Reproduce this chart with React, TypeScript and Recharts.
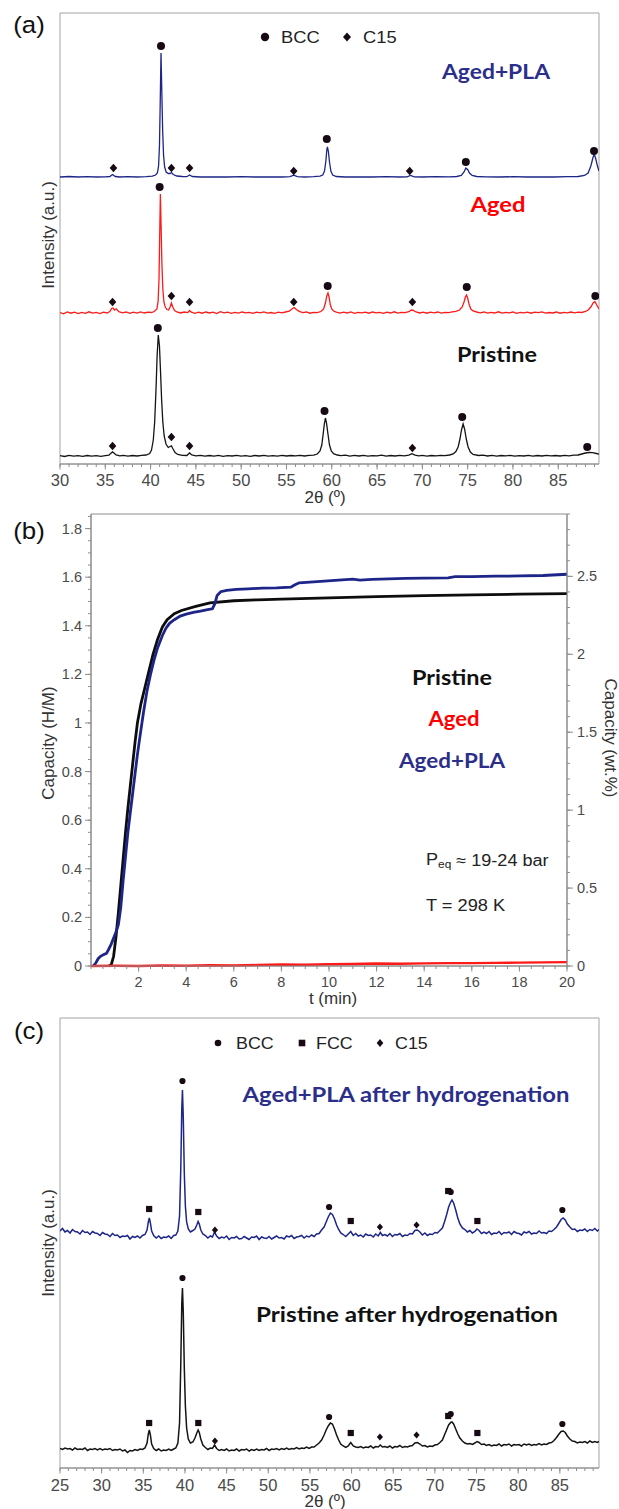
import React from "react";
import { ComposedChart, Line, Scatter, XAxis, YAxis, ReferenceArea } from "recharts";

type Pt = [number, number];
const pts = (a: Pt[]) => a.map(([x, y]) => ({ x, y }));

// ---------- (a) XRD, 2θ (deg) vs stacked intensity (a.u.)
const agedPlaA: Pt[] = [
  [30, 287], [31, 287.5], [32, 287], [33, 287.3], [34, 287], [35, 287.2], [35.5, 287.5], [35.8, 289.5], [36.1, 287.5],
  [36.6, 287], [37.5, 287.3], [38.5, 287], [39.5, 287.3], [40.2, 287.8], [40.55, 289], [40.75, 291], [40.88, 298],
  [40.98, 318], [41.06, 360], [41.15, 411], [41.24, 372], [41.33, 334], [41.43, 309], [41.55, 297], [41.72, 292],
  [41.95, 290.5], [42.15, 290.5], [42.3, 291.5], [42.5, 289.5], [42.9, 288], [43.5, 287.5], [44.0, 287.3], [44.3, 289],
  [44.6, 287.5], [45.5, 287], [47, 287.2], [48.5, 287], [50, 287.3], [51.5, 287], [53, 287.2], [54.5, 287], [55.4, 287.3],
  [55.8, 288.8], [56.2, 287.3], [57, 287], [58, 287.3], [58.7, 287.8], [59.0, 289], [59.2, 293], [59.35, 303],
  [59.45, 314], [59.52, 317], [59.62, 313], [59.75, 302], [59.9, 293], [60.1, 289], [60.5, 287.5], [61.5, 287],
  [63, 287.2], [64.5, 287], [66, 287.3], [67.5, 287], [68.3, 287.2], [68.7, 288.5], [69.1, 287.2], [70, 287],
  [71.5, 287.3], [73, 287.2], [73.8, 287.5], [74.3, 288.5], [74.6, 292], [74.8, 296], [75.0, 294.5], [75.2, 291],
  [75.5, 288.5], [76, 287.5], [77, 287.2], [78.5, 287], [80, 287.3], [81.5, 287], [83, 287.2], [84.5, 287], [86, 287.3],
  [87.2, 287.5], [87.9, 288.5], [88.3, 291], [88.6, 298], [88.85, 307], [88.98, 309.5], [89.12, 306], [89.3, 299], [89.5, 293],
];
const agedA: Pt[] = [
  [30, 151.5], [30.4, 150.2], [30.8, 152], [31.2, 150.8], [31.6, 151.8], [32, 150.4], [32.4, 151.6], [32.8, 150.6],
  [33.2, 152.2], [33.6, 150.9], [34, 151.7], [34.4, 150.5], [34.8, 151.9], [35.2, 151], [35.5, 152.5], [35.7, 155.5],
  [35.85, 156], [36.0, 154], [36.2, 155.2], [36.5, 152.4], [36.9, 151.2], [37.3, 152], [37.7, 150.7], [38.1, 151.8],
  [38.5, 150.9], [38.9, 152.1], [39.3, 151], [39.7, 151.9], [40.1, 151.5], [40.4, 152.5], [40.7, 155], [40.83, 163],
  [40.93, 185], [41.0, 225], [41.08, 270], [41.16, 238], [41.25, 200], [41.35, 175], [41.47, 162], [41.62, 157],
  [41.8, 154.5], [41.98, 154], [42.15, 157], [42.3, 161], [42.45, 157], [42.65, 153.5], [42.9, 152], [43.3, 151],
  [43.7, 152], [44.1, 151.4], [44.3, 153.5], [44.5, 151.8], [44.9, 150.6], [45.3, 151.9], [45.7, 150.8], [46.1, 152],
  [46.5, 151], [46.9, 151.8], [47.3, 150.5], [47.7, 152.3], [48.1, 151.2], [48.5, 151.9], [48.9, 150.7], [49.3, 151.6],
  [49.7, 150.9], [50.1, 152], [50.5, 151.1], [50.9, 151.7], [51.3, 150.6], [51.7, 151.9], [52.1, 151.2], [52.5, 152.1],
  [52.9, 150.8], [53.3, 151.5], [53.7, 150.7], [54.1, 151.9], [54.5, 151.2], [54.9, 152], [55.3, 152.8], [55.6, 155],
  [55.85, 156.5], [56.1, 154.5], [56.4, 152.6], [56.8, 151.4], [57.2, 152], [57.6, 150.8], [58, 151.7], [58.4, 151.3],
  [58.8, 152.5], [59.1, 155], [59.3, 161], [59.45, 168], [59.58, 171], [59.7, 167], [59.85, 159], [60.0, 155],
  [60.2, 153], [60.5, 151.8], [60.9, 150.9], [61.3, 151.9], [61.7, 151], [62.1, 152.1], [62.5, 150.7], [62.9, 151.6],
  [63.3, 151.1], [63.7, 151.9], [64.1, 150.8], [64.5, 152], [64.9, 151.2], [65.3, 151.7], [65.7, 150.6], [66.1, 151.9],
  [66.5, 151], [66.9, 152.2], [67.3, 150.9], [67.7, 151.6], [68.1, 151.4], [68.5, 152.3], [68.8, 154], [69.0, 153.6],
  [69.3, 152], [69.7, 151], [70.1, 151.8], [70.5, 150.8], [70.9, 151.9], [71.3, 151.1], [71.7, 152], [72.1, 150.9],
  [72.5, 151.7], [72.9, 151.3], [73.3, 152.1], [73.7, 152.6], [74.1, 154], [74.4, 157], [74.6, 162], [74.75, 167],
  [74.88, 169], [75.0, 166], [75.15, 160], [75.35, 155], [75.6, 153], [76, 152], [76.4, 151.2], [76.8, 152],
  [77.2, 150.8], [77.6, 151.6], [78, 151], [78.4, 152.2], [78.8, 150.9], [79.2, 151.7], [79.6, 151.2], [80, 152],
  [80.4, 150.7], [80.8, 151.6], [81.2, 151.1], [81.6, 151.9], [82, 150.8], [82.4, 151.8], [82.8, 151.3], [83.2, 152.1],
  [83.6, 150.9], [84, 151.5], [84.4, 151], [84.8, 152], [85.2, 150.8], [85.6, 151.7], [86, 151.2], [86.4, 152],
  [86.8, 151.1], [87.2, 151.8], [87.6, 151.5], [88, 152.5], [88.3, 154], [88.6, 157], [88.85, 161], [89.05, 162.5],
  [89.25, 159], [89.5, 155],
];
const pristineA: Pt[] = [
  [30, 8.3], [30.5, 7.5], [31, 8.6], [31.5, 7.8], [32, 8.4], [32.5, 7.6], [33, 8.5], [33.5, 7.9], [34, 8.3], [34.5, 7.7],
  [35, 8.4], [35.4, 8.8], [35.65, 11], [35.8, 12.2], [35.95, 11], [36.2, 9], [36.6, 8.2], [37, 8.6], [37.5, 7.8], [38, 8.5],
  [38.5, 8], [39, 8.6], [39.5, 9], [39.9, 10.5], [40.1, 14], [40.3, 24], [40.45, 42], [40.6, 75], [40.72, 108],
  [40.85, 129], [40.98, 118], [41.1, 92], [41.22, 64], [41.35, 42], [41.5, 28], [41.7, 20], [41.95, 16.5], [42.15, 17.5],
  [42.3, 18.2], [42.45, 15.5], [42.7, 11.5], [43, 9.5], [43.5, 8.6], [44, 8.5], [44.3, 11], [44.55, 9], [45, 8.2],
  [45.5, 8.7], [46, 7.8], [46.5, 8.5], [47, 7.9], [47.5, 8.6], [48, 7.7], [48.5, 8.4], [49, 8], [49.5, 8.6], [50, 7.8],
  [50.5, 8.3], [51, 7.6], [51.5, 8.5], [52, 8], [52.5, 8.7], [53, 7.9], [53.5, 8.4], [54, 7.8], [54.5, 8.6], [55, 8],
  [55.5, 8.5], [56, 8.1], [56.5, 8.7], [57, 8], [57.5, 8.6], [58, 8.8], [58.4, 10], [58.7, 13], [58.9, 19], [59.05, 30],
  [59.18, 40], [59.3, 46], [59.42, 41], [59.58, 30], [59.75, 19], [59.95, 13], [60.2, 10.3], [60.6, 9], [61, 8.3],
  [61.5, 8.8], [62, 7.9], [62.5, 8.6], [63, 8], [63.5, 8.7], [64, 7.8], [64.5, 8.4], [65, 8.1], [65.5, 8.8], [66, 7.9],
  [66.5, 8.5], [67, 8], [67.5, 8.6], [68, 8.1], [68.5, 8.8], [68.85, 10.3], [69.2, 8.8], [69.6, 8.1], [70, 8.6],
  [70.5, 7.9], [71, 8.5], [71.5, 8.1], [72, 8.7], [72.5, 8.4], [73, 9], [73.4, 10], [73.7, 12.5], [73.95, 17],
  [74.15, 25], [74.32, 34], [74.5, 40], [74.66, 35], [74.85, 25], [75.05, 17], [75.3, 12], [75.6, 9.5], [76.2, 8.5],
  [76.7, 8.9], [77.2, 8], [77.7, 8.6], [78.2, 7.9], [78.7, 8.5], [79.2, 8.1], [79.7, 8.7], [80.2, 7.9], [80.7, 8.4],
  [81.2, 8], [81.7, 8.6], [82.2, 7.8], [82.7, 8.5], [83.2, 8], [83.7, 8.7], [84.2, 8.1], [84.7, 8.5], [85.2, 8],
  [85.7, 8.6], [86.2, 8.2], [86.7, 8.8], [87.2, 9], [87.6, 10], [88, 11], [88.4, 11.5], [88.8, 11.3], [89.2, 10.5], [89.5, 9.8],
];
const bccA: Pt[] = [
  [41.15, 418], [59.45, 325], [74.8, 302], [88.95, 313],
  [41.0, 277], [59.55, 178], [74.9, 177], [89.1, 168],
  [40.8, 136], [59.2, 53], [74.4, 47], [88.2, 17],
];
const c15A: Pt[] = [
  [35.9, 296], [42.3, 296], [44.3, 296], [55.8, 293], [68.6, 293],
  [35.8, 162], [42.3, 168], [44.3, 162], [55.8, 162], [68.9, 162],
  [35.8, 18], [42.3, 27], [44.3, 18], [68.9, 16],
];
const xMajorA = [30, 35, 40, 45, 50, 55, 60, 65, 70, 75, 80, 85];

// ---------- (b) hydrogen capacity vs time
const pristineB: Pt[] = [
  [0.75, 0], [0.85, 0.005], [0.95, 0.04], [1.05, 0.12], [1.15, 0.22], [1.25, 0.33], [1.35, 0.44], [1.45, 0.55],
  [1.55, 0.65], [1.65, 0.74], [1.75, 0.83], [1.85, 0.92], [1.95, 1.0], [2.1, 1.08], [2.25, 1.14], [2.4, 1.2],
  [2.6, 1.28], [2.8, 1.345], [3.0, 1.395], [3.2, 1.425], [3.5, 1.45], [3.8, 1.463], [4.4, 1.48], [5, 1.494],
  [6, 1.503], [7, 1.507], [8, 1.51], [10, 1.515], [12, 1.52], [14, 1.524], [16, 1.527], [18, 1.53], [20, 1.532],
];
const agedPlaB: Pt[] = [
  [0.1, 0], [0.2, 0.012], [0.3, 0.03], [0.4, 0.04], [0.5, 0.045], [0.65, 0.052], [0.75, 0.07], [0.85, 0.09],
  [0.95, 0.115], [1.05, 0.14], [1.15, 0.17], [1.25, 0.24], [1.35, 0.35], [1.45, 0.45], [1.55, 0.55], [1.65, 0.63],
  [1.75, 0.71], [1.85, 0.79], [1.95, 0.87], [2.05, 0.94], [2.2, 1.04], [2.35, 1.13], [2.5, 1.2], [2.65, 1.26],
  [2.8, 1.31], [3.0, 1.36], [3.15, 1.39], [3.3, 1.41], [3.5, 1.425], [3.75, 1.44], [4.0, 1.448], [4.3, 1.455],
  [4.6, 1.46], [4.9, 1.466], [5.1, 1.47], [5.2, 1.49], [5.3, 1.525], [5.45, 1.54], [5.7, 1.546], [6.1, 1.55],
  [6.6, 1.552], [7.2, 1.555], [7.8, 1.556], [8.4, 1.559], [8.55, 1.568], [8.75, 1.577], [9.2, 1.58], [9.8, 1.584],
  [10.4, 1.588], [11.0, 1.592], [11.3, 1.588], [11.8, 1.591], [12.5, 1.593], [13.2, 1.595], [14.0, 1.596],
  [15.0, 1.597], [15.3, 1.602], [16.0, 1.602], [17.0, 1.604], [18.0, 1.605], [19.0, 1.607], [19.6, 1.61], [20, 1.612],
];
const agedB: Pt[] = [
  [0, 0], [1, 0.001], [2, 0], [3, 0.002], [4, 0.001], [5, 0.003], [6, 0.002], [7, 0.004], [8, 0.006], [9, 0.005],
  [10, 0.007], [11, 0.008], [12, 0.01], [13, 0.009], [14, 0.011], [15, 0.012], [16, 0.012], [17, 0.013], [18, 0.014],
  [19, 0.015], [20, 0.016],
];
const xMajorB = [2, 4, 6, 8, 10, 12, 14, 16, 18, 20];
const hmMajor = [0, 0.2, 0.4, 0.6, 0.8, 1, 1.2, 1.4, 1.6, 1.8];
const wtMajor = [0, 0.5, 1, 1.5, 2, 2.5];

// ---------- (c) XRD after hydrogenation
const agedPlaC: Pt[] = [
  [25, 237], [25.3, 239.5], [25.6, 236], [25.9, 237.5], [26.2, 235], [26.5, 238.5], [26.8, 236.5], [27.1, 236],
  [27.4, 234], [27.7, 237.5], [28.0, 235.5], [28.3, 236], [28.6, 233.5], [28.9, 236.5], [29.2, 235], [29.5, 234.5],
  [29.8, 232.5], [30.1, 235.5], [30.4, 234], [30.7, 233.5], [31.0, 231.5], [31.3, 234.5], [31.6, 232.5], [31.9, 233],
  [32.2, 230.5], [32.5, 232], [32.8, 231.5], [33.1, 232.5], [33.4, 229], [33.7, 231.5], [34.0, 230.5], [34.3, 232],
  [34.6, 230], [34.9, 232.5], [35.2, 233.5], [35.45, 238], [35.6, 246], [35.72, 250], [35.85, 245], [36.0, 237],
  [36.25, 232.5], [36.55, 230], [36.85, 232], [37.15, 229.5], [37.45, 231], [37.75, 230.5], [38.05, 232],
  [38.35, 229.5], [38.65, 232.5], [38.9, 233], [39.15, 237], [39.35, 252], [39.5, 300], [39.62, 360], [39.7, 378],
  [39.8, 350], [39.92, 295], [40.05, 262], [40.2, 246], [40.4, 239], [40.65, 236], [40.95, 237.5], [41.2, 239],
  [41.42, 243], [41.58, 246.5], [41.72, 244], [41.9, 238], [42.15, 234], [42.45, 232.5], [42.75, 230], [43.05, 232],
  [43.3, 231], [43.55, 236], [43.8, 232], [44.1, 229.5], [44.4, 231], [44.7, 230], [45.0, 232], [45.3, 228.5],
  [45.6, 230.5], [45.9, 230], [46.2, 231.5], [46.5, 229], [46.8, 229.5], [47.1, 231.5], [47.4, 230], [47.7, 228.5],
  [48.0, 231], [48.3, 230.5], [48.6, 232], [48.9, 228.5], [49.2, 231], [49.5, 230], [49.8, 229.5], [50.1, 231.5],
  [50.4, 229], [50.7, 230.5], [51.0, 232], [51.3, 230], [51.6, 230.5], [51.9, 229], [52.2, 232], [52.5, 231],
  [52.8, 232.5], [53.1, 229.5], [53.4, 231], [53.7, 231.5], [54.0, 232.5], [54.3, 230], [54.6, 232], [54.9, 231],
  [55.2, 233], [55.5, 231.5], [55.8, 234], [56.1, 234.5], [56.4, 238], [56.7, 241], [56.95, 246], [57.2, 251],
  [57.45, 255], [57.7, 253.5], [57.95, 249], [58.2, 243], [58.45, 238.5], [58.7, 235], [59.0, 233.5], [59.3, 231.5],
  [59.6, 234], [59.9, 236.5], [60.2, 232.5], [60.5, 234.5], [60.8, 232], [61.1, 233], [61.4, 231], [61.7, 234],
  [62.0, 232.5], [62.3, 233], [62.6, 231], [62.9, 234], [63.2, 232], [63.45, 235.5], [63.7, 232.5], [64.0, 233.5],
  [64.3, 232], [64.6, 234.5], [64.9, 231.5], [65.2, 233.5], [65.5, 233], [65.8, 234.5], [66.1, 231.5], [66.4, 233],
  [66.7, 232.5], [67.0, 234.5], [67.3, 234], [67.6, 237.5], [67.9, 238], [68.2, 236], [68.5, 233], [68.8, 235],
  [69.1, 232.5], [69.4, 234], [69.7, 233.5], [70.0, 235.5], [70.3, 235], [70.6, 237.5], [70.9, 240], [71.15, 246],
  [71.4, 253], [71.65, 261], [71.9, 266], [72.05, 268], [72.25, 265], [72.5, 258], [72.75, 250], [73.0, 244],
  [73.3, 240], [73.6, 238.5], [73.9, 236], [74.2, 237.5], [74.5, 235], [74.8, 236.5], [75.05, 239], [75.3, 237.5],
  [75.6, 234.5], [75.9, 236], [76.2, 234.5], [76.5, 236.5], [76.8, 233.5], [77.1, 235], [77.4, 234.5], [77.7, 236.5],
  [78.0, 233.5], [78.3, 235.5], [78.6, 235], [78.9, 236], [79.2, 233.5], [79.5, 236.5], [79.8, 235], [80.1, 234.5],
  [80.4, 233], [80.7, 236], [81.0, 235], [81.3, 236.5], [81.6, 234], [81.9, 235], [82.2, 234.5], [82.5, 237],
  [82.8, 235], [83.1, 235.5], [83.4, 234.5], [83.7, 237], [84.0, 236.5], [84.3, 238.5], [84.6, 241], [84.9, 245],
  [85.15, 248.5], [85.4, 250], [85.65, 248], [85.9, 244], [86.2, 241], [86.5, 238.5], [86.8, 239], [87.1, 236.5],
  [87.4, 238], [87.7, 237.5], [88.0, 239], [88.3, 236.5], [88.6, 238.5], [88.9, 237.5], [89.2, 239.5], [89.5, 237], [89.7, 238.5],
];
const pristineC: Pt[] = [
  [25, 19.5], [25.3, 18.5], [25.6, 20], [25.9, 19], [26.2, 19.5], [26.5, 18], [26.8, 20], [27.1, 18.5], [27.4, 19],
  [27.7, 18.5], [28.0, 20], [28.3, 17.5], [28.6, 19], [28.9, 18.5], [29.2, 19.5], [29.5, 18], [29.8, 19.5], [30.1, 18],
  [30.4, 19], [30.7, 18.5], [31.0, 19.5], [31.3, 17.5], [31.6, 18.5], [31.9, 18], [32.2, 19], [32.5, 17], [32.8, 18],
  [33.1, 15.5], [33.4, 17.5], [33.7, 17], [34.0, 18.5], [34.3, 17.5], [34.6, 19], [34.9, 18.5], [35.2, 20],
  [35.45, 25], [35.6, 34], [35.72, 38], [35.85, 33], [36.0, 24], [36.25, 19.5], [36.55, 17.5], [36.85, 19],
  [37.15, 17], [37.45, 18], [37.75, 17.5], [38.05, 19], [38.35, 17.5], [38.65, 19], [38.9, 20], [39.15, 25],
  [39.35, 45], [39.5, 105], [39.62, 165], [39.7, 180], [39.8, 155], [39.92, 100], [40.05, 62], [40.2, 40], [40.4, 29],
  [40.65, 25], [40.95, 26], [41.2, 30], [41.42, 35], [41.58, 38], [41.72, 35.5], [41.9, 29], [42.15, 23], [42.45, 20.5],
  [42.75, 18.5], [43.05, 20], [43.3, 19.5], [43.55, 23], [43.8, 19.5], [44.1, 17.5], [44.4, 18.5], [44.7, 17.5],
  [45.0, 19], [45.3, 17], [45.6, 18], [45.9, 17.5], [46.2, 19], [46.5, 17], [46.8, 18.5], [47.1, 18], [47.4, 19],
  [47.7, 17], [48.0, 18.5], [48.3, 17.5], [48.6, 19], [48.9, 17.5], [49.2, 18.5], [49.5, 18], [49.8, 19.5], [50.1, 17.5],
  [50.4, 19], [50.7, 18.5], [51.0, 19.5], [51.3, 18], [51.6, 19.5], [51.9, 18.5], [52.2, 20], [52.5, 18.5], [52.8, 19.5],
  [53.1, 19], [53.4, 20.5], [53.7, 19], [54.0, 20], [54.3, 19.5], [54.6, 21], [54.9, 19.5], [55.2, 21], [55.5, 21],
  [55.8, 23], [56.1, 25], [56.4, 28], [56.7, 33], [56.95, 38], [57.2, 42], [57.45, 45], [57.7, 44], [57.95, 39],
  [58.2, 33], [58.45, 28], [58.7, 24], [59.0, 22], [59.3, 20.5], [59.6, 22], [59.9, 25.5], [60.2, 22], [60.5, 21],
  [60.8, 20.5], [61.1, 21.5], [61.4, 20], [61.7, 21], [62.0, 20.5], [62.3, 22], [62.6, 20], [62.9, 21.5], [63.2, 21],
  [63.45, 23], [63.7, 21], [64.0, 21.5], [64.3, 20.5], [64.6, 22], [64.9, 20], [65.2, 21.5], [65.5, 21], [65.8, 22.5],
  [66.1, 20.5], [66.4, 21.5], [66.7, 21], [67.0, 22], [67.3, 22.5], [67.6, 25], [67.9, 25.5], [68.2, 24], [68.5, 22],
  [68.8, 22.5], [69.1, 21], [69.4, 22], [69.7, 21.5], [70.0, 23], [70.3, 23.5], [70.6, 25.5], [70.9, 28], [71.15, 33],
  [71.4, 38], [71.65, 43], [71.9, 45.5], [72.05, 46], [72.25, 44], [72.5, 39], [72.75, 34], [73.0, 30], [73.3, 27],
  [73.6, 25], [73.9, 24], [74.2, 24.5], [74.5, 23.5], [74.8, 25], [75.05, 26.5], [75.3, 25.5], [75.6, 23.5], [75.9, 24],
  [76.2, 22.5], [76.5, 23.5], [76.8, 22], [77.1, 23], [77.4, 22.5], [77.7, 24], [78.0, 22], [78.3, 23.5], [78.6, 23],
  [78.9, 24], [79.2, 22], [79.5, 23.5], [79.8, 23], [80.1, 23.5], [80.4, 22], [80.7, 24], [81.0, 23], [81.3, 24],
  [81.6, 22.5], [81.9, 23.5], [82.2, 23], [82.5, 24.5], [82.8, 23], [83.1, 24], [83.4, 23.5], [83.7, 25], [84.0, 25.5],
  [84.3, 27.5], [84.6, 30.5], [84.9, 34], [85.15, 36.5], [85.4, 37], [85.65, 35.5], [85.9, 32], [86.2, 29], [86.5, 27],
  [86.8, 26.5], [87.1, 25], [87.4, 26], [87.7, 25.5], [88.0, 26.5], [88.3, 25], [88.6, 27], [88.9, 25.5], [89.2, 26.5],
  [89.5, 25.5], [89.7, 26.5],
];
const bccC: Pt[] = [[39.7, 387], [57.3, 261], [71.9, 276], [85.3, 258], [39.7, 190], [57.3, 51], [71.9, 54], [85.3, 44]];
const fccC: Pt[] = [
  [35.7, 259], [41.6, 256], [59.9, 247], [71.6, 277], [75.1, 247],
  [35.7, 45], [41.6, 45], [59.9, 35], [71.6, 52], [75.1, 35],
];
const c15C: Pt[] = [[43.6, 238], [63.4, 241], [67.8, 243], [43.6, 27], [63.4, 31], [67.8, 33]];
const xMajorC = [25, 30, 35, 40, 45, 50, 55, 60, 65, 70, 75, 80, 85];

// ---------- styling
const SANS = "'Liberation Sans', Arial, sans-serif";
const BOLD = "Lato, 'Open Sans', sans-serif";
const AXIS = "#8c8c8c";
const TXT = "#4a4a4a";
const MARK = "#170a14";
const NAVY = "#1d2688";
const NAVY_TXT = "#2b2f8a";
const RED = "#ff1a1a";

// evenly spaced minor tick marks for the axes
const steps = (a: number, b: number, s: number) => {
  const out: number[] = [];
  for (let i = 0; a + i * s <= b + 1e-9; i++) out.push(+(a + i * s).toFixed(3));
  return out;
};

const bottomTick = (majors: number[], gap: number, fs: number) => (p: any) => {
  const v = p.payload.value;
  if (!majors.includes(v)) return <g />;
  const ay = p.y - gap;
  return (
    <g>
      <line x1={p.x} x2={p.x} y1={ay} y2={ay + 5.5} stroke={AXIS} />
      <text x={p.x} y={p.y + fs * 0.36} textAnchor="middle" dominantBaseline="central" fontSize={fs} fontFamily={SANS} fill={TXT}>
        {String(v)}
      </text>
    </g>
  );
};

const sideTick = (majors: number[], gap: number, fs: number, side: "left" | "right") => (p: any) => {
  const v = p.payload.value;
  if (!majors.includes(v)) return <g />;
  const ax = side === "left" ? p.x + gap : p.x - gap;
  const ex = side === "left" ? ax - 6 : ax + 6;
  return (
    <g>
      <line x1={ax} x2={ex} y1={p.y} y2={p.y} stroke={AXIS} />
      <text x={p.x} y={p.y} textAnchor={side === "left" ? "end" : "start"} dominantBaseline="central" fontSize={fs} fontFamily={SANS} fill={TXT}>
        {String(v)}
      </text>
    </g>
  );
};

const dot = (r: number) => (p: any) => <circle cx={p.cx} cy={p.cy} r={r} fill={MARK} />;
const diamond = (h: number, w: number) => (p: any) => (
  <path d={`M${p.cx},${p.cy - h}L${p.cx + w},${p.cy}L${p.cx},${p.cy + h}L${p.cx - w},${p.cy}Z`} fill={MARK} />
);
const square = (s: number) => (p: any) => <rect x={p.cx - s} y={p.cy - s} width={2 * s} height={2 * s} fill={MARK} />;

function T({ x, y, s, children, anchor = "middle", fill = "#222", font = SANS, weight = 400, rot = 0, sx = 1, len }: any) {
  return (
    <text
      transform={`translate(${x},${y}) rotate(${rot}) scale(${sx},1)`}
      textAnchor={anchor}
      dominantBaseline="central"
      fontSize={s}
      fontFamily={font}
      fontWeight={weight}
      fill={fill}
      textLength={len}
      lengthAdjust={len ? "spacingAndGlyphs" : undefined}
    >
      {children}
    </text>
  );
}

const Label = (props: any) => <T font={BOLD} weight={700} s={21} {...props} />;

export default function App() {
  return (
    <div style={{ position: "absolute", left: 0, top: 0, width: 619, height: 1509, background: "#fff", overflow: "hidden" }}>
      {/* (a) */}
      <div style={{ position: "absolute", left: 0, top: 0 }}>
        <ComposedChart width={619} height={520} margin={{ top: 13, right: 20, bottom: 16, left: 60 }}>
          <XAxis dataKey="x" type="number" domain={[30, 89.5]} allowDataOverflow ticks={steps(30, 89, 1)} interval={0}
            tickSize={3} tickMargin={7} height={40} stroke={AXIS} tick={bottomTick(xMajorA, 10, 16.5)} />
          <YAxis type="number" domain={[0, 451]} hide />
          <ReferenceArea x1={30} x2={89.5} y1={0} y2={451} fill="none" stroke="#a3a3a3" />
          <Line data={pts(pristineA)} dataKey="y" stroke="#141414" strokeWidth={1.3} dot={false} activeDot={false} isAnimationActive={false} />
          <Line data={pts(agedA)} dataKey="y" stroke={RED} strokeWidth={1.3} dot={false} activeDot={false} isAnimationActive={false} />
          <Line data={pts(agedPlaA)} dataKey="y" stroke={NAVY} strokeWidth={1.3} dot={false} activeDot={false} isAnimationActive={false} />
          <Scatter data={pts(bccA)} dataKey="y" shape={dot(4)} isAnimationActive={false} />
          <Scatter data={pts(c15A)} dataKey="y" shape={diamond(4.3, 3.8)} isAnimationActive={false} />
        </ComposedChart>
      </div>

      {/* (b) */}
      <div style={{ position: "absolute", left: 0, top: 500 }}>
        <ComposedChart width={619} height={520} margin={{ top: 14, right: 12, bottom: 20, left: 41 }}>
          <XAxis dataKey="x" type="number" domain={[0, 20]} ticks={steps(0, 20, 0.5)} interval={0}
            tickSize={3} tickMargin={8} height={34} stroke={AXIS} tick={bottomTick(xMajorB, 11, 14.5)} />
          <YAxis yAxisId="left" type="number" domain={[0, 1.86]} ticks={steps(0, 1.85, 0.05)} interval={0}
            tickSize={3} tickMargin={6} width={50} stroke={AXIS} tick={sideTick(hmMajor, 9, 14.5, "left")} />
          <YAxis yAxisId="right" orientation="right" type="number" domain={[0, 2.9]} allowDataOverflow
            ticks={steps(0, 2.9, 0.1)} interval={0}
            tickSize={3} tickMargin={7} width={40} stroke={AXIS} tick={sideTick(wtMajor, 10, 14.5, "right")} />
          <ReferenceArea yAxisId="left" x1={0} x2={20} y1={0} y2={1.86} fill="none" stroke={AXIS} />
          <Line yAxisId="left" data={pts(pristineB)} dataKey="y" stroke="#0d0d0d" strokeWidth={2.8} dot={false} activeDot={false} isAnimationActive={false} />
          <Line yAxisId="left" data={pts(agedPlaB)} dataKey="y" stroke={NAVY} strokeWidth={2.8} dot={false} activeDot={false} isAnimationActive={false} />
          <Line yAxisId="left" data={pts(agedB)} dataKey="y" stroke={RED} strokeWidth={2.4} dot={false} activeDot={false} isAnimationActive={false} />
        </ComposedChart>
      </div>

      {/* (c) */}
      <div style={{ position: "absolute", left: 0, top: 1010 }}>
        <ComposedChart width={619} height={499} margin={{ top: 8, right: 20, bottom: 6, left: 60 }}>
          <XAxis dataKey="x" type="number" domain={[25, 89.7]} allowDataOverflow ticks={steps(25, 89, 1)} interval={0}
            tickSize={3} tickMargin={8} height={35} stroke={AXIS} tick={bottomTick(xMajorC, 11, 16.5)} />
          <YAxis type="number" domain={[0, 450]} hide />
          <ReferenceArea x1={25} x2={89.7} y1={0} y2={450} fill="none" stroke="#a3a3a3" />
          <Line data={pts(pristineC)} dataKey="y" stroke="#141414" strokeWidth={1.5} dot={false} activeDot={false} isAnimationActive={false} />
          <Line data={pts(agedPlaC)} dataKey="y" stroke={NAVY} strokeWidth={1.5} dot={false} activeDot={false} isAnimationActive={false} />
          <Scatter data={pts(bccC)} dataKey="y" shape={dot(3.1)} isAnimationActive={false} />
          <Scatter data={pts(fccC)} dataKey="y" shape={square(3.1)} isAnimationActive={false} />
          <Scatter data={pts(c15C)} dataKey="y" shape={diamond(3.6, 3.1)} isAnimationActive={false} />
        </ComposedChart>
      </div>

      {/* annotations */}
      <svg width={619} height={1509} style={{ position: "absolute", left: 0, top: 0, pointerEvents: "none" }}>
        <T x={29} y={25} s={23.5} sx={1.1} fill="#111">(a)</T>
        <circle cx={265} cy={37} r={4.2} fill={MARK} />
        <T x={281} y={37.5} s={17} sx={1.08} anchor="start">BCC</T>
        <path d="M347,32.5L351,37L347,41.5L343,37Z" fill={MARK} />
        <T x={363} y={37.5} s={17} sx={1.08} anchor="start">C15</T>
        <Label x={496} y={70} fill={NAVY_TXT} len={108}>Aged+PLA</Label>
        <Label x={498} y={203} fill="#ff0000" len={55}>Aged</Label>
        <Label x={497} y={353.5} fill="#111" len={80}>Pristine</Label>
        <T x={48} y={235} s={17} rot={-90} fill="#333">Intensity (a.u.)</T>
        <T x={325} y={497} s={17} fill="#333">2θ (º)</T>

        <T x={29} y={531} s={23.5} sx={1.1} fill="#111">(b)</T>
        <T x={48} y={743} s={17} rot={-90} fill="#333">Capacity (H/M)</T>
        <T x={610} y={738} s={17} rot={90} fill="#333">Capacity (wt.%)</T>
        <T x={333} y={998} s={17} fill="#333">t (min)</T>
        <Label x={452} y={676.5} fill="#111" len={80}>Pristine</Label>
        <Label x={454} y={717.5} fill="#ff0000" len={51}>Aged</Label>
        <Label x={452} y={759} fill={NAVY_TXT} len={106}>Aged+PLA</Label>
        <text transform="translate(426,860) scale(1.13,1)" dominantBaseline="central" fontSize={16} fontFamily={SANS} fill="#222">
          P<tspan dy={4} fontSize={10.5}>eq</tspan><tspan dy={-4}> ≈ 19-24 bar</tspan>
        </text>
        <T x={426} y={905} s={16} sx={1.14} anchor="start">T = 298 K</T>

        <T x={29} y={1031} s={23.5} sx={1.1} fill="#111">(c)</T>
        <circle cx={218} cy={1043} r={3.3} fill={MARK} />
        <T x={236} y={1043} s={17} sx={1.05} anchor="start">BCC</T>
        <rect x={298.7} y={1039.7} width={6.6} height={6.6} fill={MARK} />
        <T x={316} y={1043} s={17} sx={1.05} anchor="start">FCC</T>
        <path d="M380,1039L383.3,1043L380,1047L376.7,1043Z" fill={MARK} />
        <T x={395} y={1043} s={17} sx={1.05} anchor="start">C15</T>
        <Label x={406} y={1093} fill={NAVY_TXT} len={327}>Aged+PLA after hydrogenation</Label>
        <Label x={407} y={1313} fill="#111" len={302}>Pristine after hydrogenation</Label>
        <T x={48} y={1243} s={17} rot={-90} fill="#333">Intensity (a.u.)</T>
        <T x={325} y={1501} s={17} fill="#333">2θ (º)</T>
      </svg>
    </div>
  );
}
